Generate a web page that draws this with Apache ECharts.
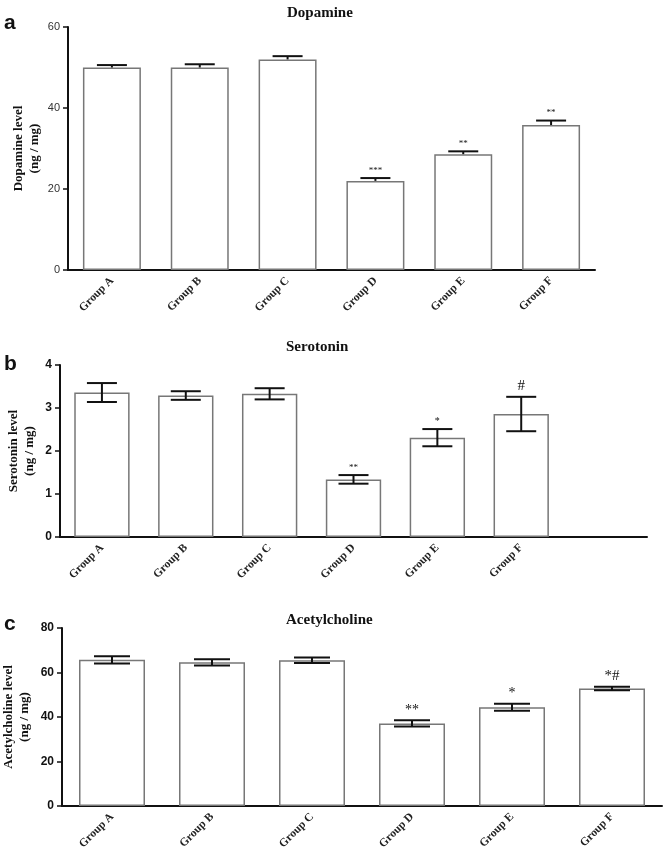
<!DOCTYPE html>
<html>
<head>
<meta charset="utf-8">
<script src="https://cdn.jsdelivr.net/npm/echarts@6/dist/echarts.min.js"></script>
<style>
  html, body { margin: 0; padding: 0; background: #fff; }
  #chart { width: 664px; height: 851px; }
</style>
</head>
<body>
<div id="chart"></div>
<script>
// data
var groups = ['Group A', 'Group B', 'Group C', 'Group D', 'Group E', 'Group F'];

var dopamine = [50.0, 50.0, 52.0, 22.0, 28.6, 35.8];
var dopamineSem = [0.6, 0.8, 0.8, 0.7, 0.7, 1.1];
var dopamineSig = ['', '', '', '***', '**', '**'];

var serotonin = [3.36, 3.29, 3.33, 1.34, 2.31, 2.86];
var serotoninSem = [0.22, 0.10, 0.13, 0.10, 0.20, 0.40];
var serotoninSig = ['', '', '', '**', '*', '#'];

var acetylcholine = [65.7, 64.6, 65.5, 37.1, 44.4, 52.8];
var acetylcholineSem = [1.6, 1.4, 1.2, 1.4, 1.6, 0.8];
var acetylcholineSig = ['', '', '', '**', '*', '*#'];

var dopamineTicks = {min: 0, max: 60, interval: 20};
var serotoninTicks = {min: 0, max: 4, interval: 1};
var acetylcholineTicks = {min: 0, max: 80, interval: 20};

var serif = '"Liberation Serif", "Times New Roman", serif';
var sans = '"Liberation Sans", Arial, sans-serif';

var chart = echarts.init(document.getElementById('chart'));

function xAxisOf(idx, cats) {
  return {
    type: 'category',
    gridIndex: idx,
    data: cats,
    axisLine: {lineStyle: {color: '#111', width: 2}},
    axisTick: {alignWithLabel: true, length: 5, lineStyle: {color: '#111', width: 1.5}},
    axisLabel: {
      rotate: 45, interval: 0, margin: 9,
      fontFamily: serif, fontWeight: 'bold', fontSize: 11.5, color: '#222'
    }
  };
}

function yAxisOf(idx, ticks, name, boldLabels, gap) {
  return {
    type: 'value',
    gridIndex: idx,
    min: ticks.min, max: ticks.max, interval: ticks.interval,
    name: name,
    nameLocation: 'middle',
    nameGap: gap,
    nameMoveOverlap: false,
    nameTextStyle: {fontFamily: serif, fontWeight: 'bold', fontSize: 13, color: '#111', lineHeight: 16},
    axisLine: {show: true, lineStyle: {color: '#111', width: 2}},
    axisTick: {show: true, length: 5, lineStyle: {color: '#111', width: 1.5}},
    splitLine: {show: false},
    axisLabel: {
      margin: 8, fontFamily: sans, fontSize: boldLabels ? 12 : 11,
      fontWeight: boldLabels ? 'bold' : 'normal', color: boldLabels ? '#111' : '#333'
    }
  };
}

function barSeries(idx, values) {
  return {
    type: 'bar',
    xAxisIndex: idx, yAxisIndex: idx,
    data: values,
    barCategoryGap: '34%',
    itemStyle: {color: '#fff', borderColor: '#777', borderWidth: 1.5},
    silent: true
  };
}

/*误差线 + 显著性标记*/
function errorSeries(idx, values, sem, sig, capWidth, upOnly, sigSizes) {
  var rows = values.map(function (v, i) { return [i, v, sem[i], sig[i]]; });
  return {
    type: 'custom',
    xAxisIndex: idx, yAxisIndex: idx,
    data: rows,
    z: 10,
    silent: true,
    renderItem: function (params, api) {
      var i = api.value(0), v = api.value(1), e = api.value(2);
      var mark = rows[params.dataIndex][3];
      var top = api.coord([i, v + e]);
      var bot = api.coord([i, upOnly ? v : v - e]);
      var half = capWidth / 2;
      var ls = {stroke: '#111', lineWidth: 2};
      var children = [
        {type: 'line', shape: {x1: top[0], y1: top[1], x2: bot[0], y2: bot[1]}, style: ls},
        {type: 'line', shape: {x1: top[0] - half, y1: top[1], x2: top[0] + half, y2: top[1]}, style: ls}
      ];
      if (!upOnly) {
        children.push({type: 'line', shape: {x1: bot[0] - half, y1: bot[1], x2: bot[0] + half, y2: bot[1]}, style: ls});
      }
      if (mark) {
        var size = sigSizes[mark] || 10;
        children.push({
          type: 'text',
          style: {
            x: top[0], y: top[1] - 3, text: mark,
            align: 'center', verticalAlign: 'bottom',
            font: 'normal ' + size + 'px ' + serif, fill: '#111'
          }
        });
      }
      return {type: 'group', children: children};
    }
  };
}

var option = {
  backgroundColor: '#fff',
  animation: false,
  title: [
    {text: 'Dopamine', left: 282, top: 1, textStyle: {fontFamily: serif, fontWeight: 'bold', fontSize: 15, color: '#111'}},
    {text: 'Serotonin', left: 281, top: 335, textStyle: {fontFamily: serif, fontWeight: 'bold', fontSize: 15, color: '#111'}},
    {text: 'Acetylcholine', left: 281, top: 608, textStyle: {fontFamily: serif, fontWeight: 'bold', fontSize: 15, color: '#111'}}
  ],
  graphic: [
    {type: 'text', left: 4, top: 13, style: {text: 'a', font: 'bold 21px ' + sans, fill: '#111'}},
    {type: 'text', left: 4, top: 354, style: {text: 'b', font: 'bold 21px ' + sans, fill: '#111'}},
    {type: 'text', left: 4, top: 614, style: {text: 'c', font: 'bold 21px ' + sans, fill: '#111'}}
  ],
  grid: [
    {left: 68, top: 27, width: 527, height: 243, outerBoundsMode: 'none'},
    {left: 60, top: 365, width: 587, height: 172, outerBoundsMode: 'none'},
    {left: 62, top: 628, width: 600, height: 178, outerBoundsMode: 'none'}
  ],
  xAxis: [
    xAxisOf(0, groups),
    xAxisOf(1, groups.concat([''])),
    xAxisOf(2, groups)
  ],
  yAxis: [
    yAxisOf(0, dopamineTicks, 'Dopamine level\n(ng / mg)', false, 25),
    yAxisOf(1, serotoninTicks, 'Serotonin level\n(ng / mg)', true, 22),
    yAxisOf(2, acetylcholineTicks, 'Acetylcholine level\n(ng / mg)', true, 29)
  ],
  series: [
    barSeries(0, dopamine),
    errorSeries(0, dopamine, dopamineSem, dopamineSig, 30, true, {'***': 9, '**': 9}),
    barSeries(1, serotonin),
    errorSeries(1, serotonin, serotoninSem, serotoninSig, 30, false, {'**': 9, '*': 10, '#': 15}),
    barSeries(2, acetylcholine),
    errorSeries(2, acetylcholine, acetylcholineSem, acetylcholineSig, 36, false, {'**': 14, '*': 14, '*#': 15})
  ]
};

chart.setOption(option);
</script>
</body>
</html>
